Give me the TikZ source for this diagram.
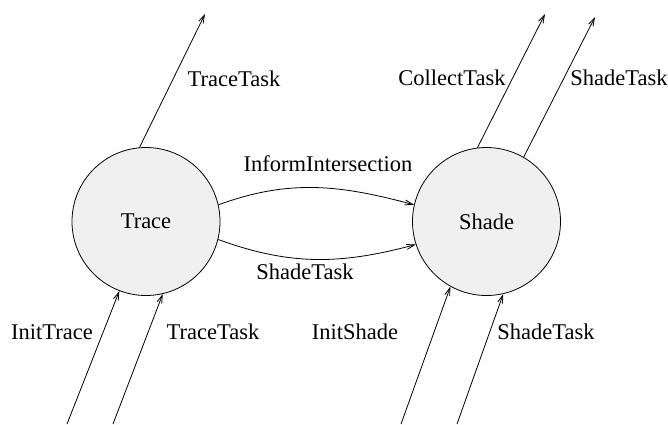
\documentclass[tikz,border=0pt]{standalone}
\usepackage{fontspec}
\setmainfont{Liberation Serif}
\usetikzlibrary{arrows.meta}
\begin{document}
\begin{tikzpicture}[x=1pt,y=-1pt,
  state/.style={circle,draw,line width=0.8pt,fill=black!6,minimum size=148pt,inner sep=0pt,font=\fontsize{22.5}{26}\selectfont},
  lbl/.style={font=\fontsize{22.5}{26}\selectfont,inner sep=0pt},
  conn/.style={line width=0.8pt,-{Straight Barb[length=8pt,width=5pt,line width=0.8pt]}}]
\useasboundingbox (0,0) rectangle (668,424);
\node[state] (trace) at (146,221.5) {Trace};
\node[state] (shade) at (486.5,221.5) {Shade};
% free ends
\coordinate (ttout) at (205,14);
\coordinate (ctout) at (545,14);
\coordinate (stout) at (595,17);
\coordinate (itin) at (67,424);
\coordinate (ttin) at (113,424);
\coordinate (isin) at (401,424);
\coordinate (stin) at (457,424);
% connectors
\draw[conn] (trace.95) -- (ttout);
\draw[conn] (shade.97) -- (ctout);
\draw[conn] (shade.60) -- (stout);
\draw[conn] (itin) -- (trace.-111);
\draw[conn] (ttin) -- (trace.-77);
\draw[conn] (isin) -- (shade.-119);
\draw[conn] (stin) -- (shade.-77);
\draw[conn] (trace.13) to[out=20,in=165] (shade.167);
\draw[conn] (trace.-14) to[out=-20,in=195] (shade.-162);
% labels
\node[lbl] (l1) at (234,79) {TraceTask};
\node[lbl] (l2) at (452,78) {CollectTask};
\node[lbl] (l3) at (619,78) {ShadeTask};
\node[lbl] (l4) at (328,164) {InformIntersection};
\node[lbl] (l5) at (305,272) {ShadeTask};
\node[lbl] (l6) at (52,332) {InitTrace};
\node[lbl] (l7) at (213,332) {TraceTask};
\node[lbl] (l8) at (355,332) {InitShade};
\node[lbl] (l9) at (546,332) {ShadeTask};
\end{tikzpicture}
\end{document}
